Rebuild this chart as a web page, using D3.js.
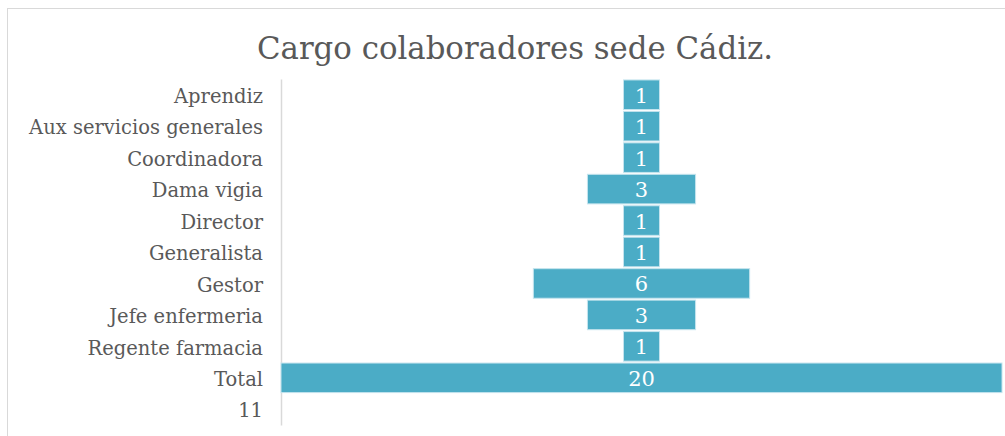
<!DOCTYPE html>
<html>
<head>
<meta charset="utf-8">
<script src="https://cdn.jsdelivr.net/npm/d3@7"></script>
<style>
  body { margin: 0; background: #fff; }
  text { font-family: "DejaVu Serif", serif; }
</style>
</head>
<body>
<div id="chart"></div>
<script>
var categories = ["Aprendiz", "Aux servicios generales", "Coordinadora", "Dama vigia",
  "Director", "Generalista", "Gestor", "Jefe enfermeria", "Regente farmacia", "Total", "11"];
var values = [1, 1, 1, 3, 1, 1, 6, 3, 1, 20, null];
var title = "Cargo colaboradores sede Cádiz.";

var fullWidth = 1005, fullHeight = 436;
var margin = {top: 79, right: 3, bottom: 11, left: 281};
var width = fullWidth - margin.left - margin.right;
var height = fullHeight - margin.top - margin.bottom;

var svg = d3.select("#chart").append("svg")
    .attr("width", fullWidth)
    .attr("height", fullHeight);

// chart frame
svg.append("rect")
    .attr("x", 7.5).attr("y", 8.5)
    .attr("width", 1010).attr("height", 460)
    .attr("fill", "none")
    .attr("stroke", "#d9d9d9");

svg.append("text")
    .attr("x", 515)
    .attr("y", 59)
    .attr("text-anchor", "middle")
    .attr("font-size", 30.8)
    .attr("fill", "#595959")
    .text(title);

var g = svg.append("g")
    .attr("transform", "translate(" + margin.left + "," + margin.top + ")");

var maxV = d3.max(values);
var x = d3.scaleLinear()
    .domain([-maxV / 2, maxV / 2])
    .range([0, width]);

var y = d3.scaleBand()
    .domain(categories)
    .range([0, height])
    .paddingInner(0.06)
    .paddingOuter(0.03);

var yAxis = g.append("g")
    .call(d3.axisLeft(y).tickSize(0).tickPadding(18));
yAxis.select(".domain").attr("stroke", "#d9d9d9").attr("stroke-width", 1.5);
yAxis.selectAll("text")
    .attr("font-family", "DejaVu Serif, serif")
    .attr("font-size", 19.5)
    .attr("dy", "0.42em")
    .attr("fill", "#595959");

var rows = categories.map(function(c, i) { return {label: c, value: values[i]}; })
    .filter(function(d) { return d.value != null; });

g.selectAll(".bar")
    .data(rows)
    .enter()
    .append("rect")
    .attr("class", "bar")
    .attr("x", function(d) { return x(-d.value / 2); })
    .attr("y", function(d) { return y(d.label); })
    .attr("width", function(d) { return x(d.value / 2) - x(-d.value / 2); })
    .attr("height", y.bandwidth())
    .attr("fill", "#4bacc6")
    .attr("stroke", "#c5e4ee")
    .attr("stroke-width", 1);

g.selectAll(".val")
    .data(rows)
    .enter()
    .append("text")
    .attr("class", "val")
    .attr("x", x(0))
    .attr("y", function(d) { return y(d.label) + y.bandwidth() / 2; })
    .attr("dy", "0.38em")
    .attr("text-anchor", "middle")
    .attr("font-size", 21)
    .attr("fill", "#fff")
    .text(function(d) { return d.value; });
</script>
</body>
</html>
